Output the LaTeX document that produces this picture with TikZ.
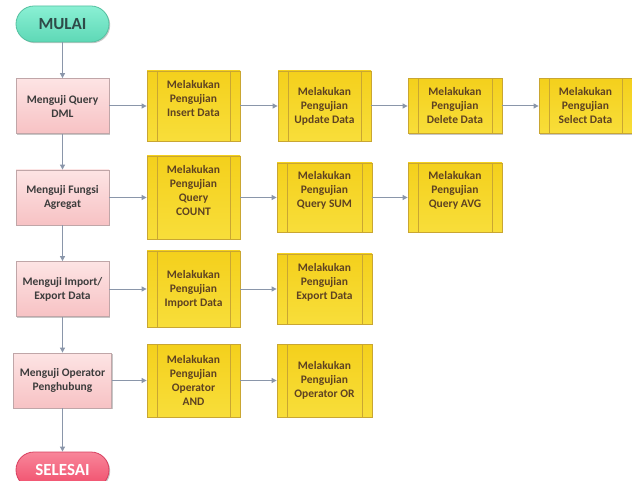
\documentclass[tikz,border=0pt]{standalone}
\usepackage{fontspec}
\setmainfont{Carlito}
\usetikzlibrary{arrows.meta,shadows}
\definecolor{arrowc}{HTML}{8A96AA}
\definecolor{mintop}{HTML}{8AF0D4}
\definecolor{minbot}{HTML}{5ED8B6}
\definecolor{minborder}{HTML}{55C0A0}
\definecolor{pinktop}{HTML}{FDE4E4}
\definecolor{pinkbot}{HTML}{F7C2C4}
\definecolor{pinkborder}{HTML}{C0A6A8}
\definecolor{yeltop}{HTML}{F4D01C}
\definecolor{yelmid}{HTML}{FFEE60}
\definecolor{yelbot}{HTML}{F8DE3A}
\definecolor{yelborder}{HTML}{C9A632}
\definecolor{redtop}{HTML}{F8869A}
\definecolor{redbot}{HTML}{F04C6A}
\definecolor{redborder}{HTML}{D84060}
\definecolor{ytext}{HTML}{5E4222}
\definecolor{ptext}{HTML}{3C3C3C}
\definecolor{mtext}{HTML}{2E4A48}
\begin{document}
\begin{tikzpicture}[x=1pt,y=-1pt,
  shad/.style={drop shadow={shadow xshift=1.2pt,shadow yshift=-1.2pt,opacity=0.22,fill=black}},
  termstart/.style={shad,draw=minborder,line width=0.8pt,top color=mintop,bottom color=minbot,rounded corners=18pt,minimum width=93pt,minimum height=36pt,inner sep=0pt,text=mtext,font=\bfseries\fontsize{17}{20}\selectfont},
  termend/.style={shad,draw=redborder,line width=0.8pt,top color=redtop,bottom color=redbot,rounded corners=18pt,minimum width=93pt,minimum height=36pt,inner sep=0pt,text=white,font=\bfseries\fontsize{17}{20}\selectfont},
  pinkbox/.style={shad,draw=pinkborder,line width=0.8pt,top color=pinktop,bottom color=pinkbot,minimum width=93pt,minimum height=55pt,inner sep=0pt,align=center,text=ptext,font=\bfseries\fontsize{11.5}{14}\selectfont},
  yelbox/.style={shad,draw=yelborder,line width=0.8pt,top color=yeltop,middle color=yelmid,bottom color=yelbot,inner sep=0pt,
    path picture={\draw[yelborder,line width=0.8pt]
      ([xshift=10pt]path picture bounding box.north west) -- ([xshift=10pt]path picture bounding box.south west)
      ([xshift=-10pt]path picture bounding box.north east) -- ([xshift=-10pt]path picture bounding box.south east);}},
  btxt/.style={align=center,inner sep=0pt,text=ytext,font=\bfseries\fontsize{11.5}{14}\selectfont},
  conn/.style={draw=arrowc,line width=1pt,-{Triangle[length=5pt,width=5pt]}}
]
\useasboundingbox (0,0) rectangle (632,481);
\clip (0,0) rectangle (632,481);

% start / end
\node[termstart] (start) at (62.5,24) {MULAI};
\node[termend] (end) at (62.5,470) {SELESAI};

% row 1
\node[pinkbox] (dml) at (62.5,106) {Menguji Query\\DML};
\node[yelbox,minimum width=93pt,minimum height=70pt] (ins) at (193.5,106) {};
\node[btxt] (ins-t) at (193.5,99) {Melakukan\\Pengujian\\Insert Data};
\node[yelbox,minimum width=93pt,minimum height=70pt] (upd) at (324.5,106) {};
\node[btxt] (upd-t) at (324.5,106) {Melakukan\\Pengujian\\Update Data};
\node[yelbox,minimum width=94pt,minimum height=55pt] (del) at (455,106) {};
\node[btxt] (del-t) at (455,106) {Melakukan\\Pengujian\\Delete Data};
\node[yelbox,minimum width=93pt,minimum height=55pt] (sel) at (585.5,106) {};
\node[btxt] (sel-t) at (585.5,106) {Melakukan\\Pengujian\\Select Data};

% row 2
\node[pinkbox] (agg) at (62.5,197.5) {Menguji Fungsi\\Agregat};
\node[yelbox,minimum width=93pt,minimum height=83pt] (cnt) at (193.5,197.5) {};
\node[btxt] (cnt-t) at (193.5,190.5) {Melakukan\\Pengujian\\Query\\COUNT};
\node[yelbox,minimum width=95pt,minimum height=69pt] (sum) at (324.5,197.5) {};
\node[btxt] (sum-t) at (324.5,190.5) {Melakukan\\Pengujian\\Query SUM};
\node[yelbox,minimum width=94pt,minimum height=69pt] (avg) at (455,197.5) {};
\node[btxt] (avg-t) at (455,190.5) {Melakukan\\Pengujian\\Query AVG};

% row 3
\node[pinkbox] (imp) at (62.5,289) {Menguji Import/\\Export Data};
\node[yelbox,minimum width=93pt,minimum height=76pt] (impd) at (193.5,289) {};
\node[btxt] (impd-t) at (193.5,289) {Melakukan\\Pengujian\\Import Data};
\node[yelbox,minimum width=95pt,minimum height=70pt] (expd) at (324.5,289) {};
\node[btxt] (expd-t) at (324.5,282) {Melakukan\\Pengujian\\Export Data};

% row 4
\node[pinkbox,minimum width=98pt] (opr) at (62.5,380.5) {Menguji Operator\\Penghubung};
\node[yelbox,minimum width=93pt,minimum height=73pt] (and) at (193.5,380.5) {};
\node[btxt] (and-t) at (193.5,380) {Melakukan\\Pengujian\\Operator\\AND};
\node[yelbox,minimum width=95pt,minimum height=73pt] (or) at (324.5,380.5) {};
\node[btxt] (or-t) at (324.5,380) {Melakukan\\Pengujian\\Operator OR};

% vertical flow
\draw[conn] (start) -- (dml);
\draw[conn] (dml) -- (agg);
\draw[conn] (agg) -- (imp);
\draw[conn] (imp) -- (opr);
\draw[conn] (opr) -- (end);

% horizontal flows
\draw[conn] (dml) -- (ins);
\draw[conn] (ins) -- (upd);
\draw[conn] (upd) -- (del);
\draw[conn] (del) -- (sel);
\draw[conn] (agg) -- (cnt);
\draw[conn] (cnt) -- (sum);
\draw[conn] (sum) -- (avg);
\draw[conn] (imp) -- (impd);
\draw[conn] (impd) -- (expd);
\draw[conn] (opr) -- (and);
\draw[conn] (and) -- (or);
\end{tikzpicture}
\end{document}
